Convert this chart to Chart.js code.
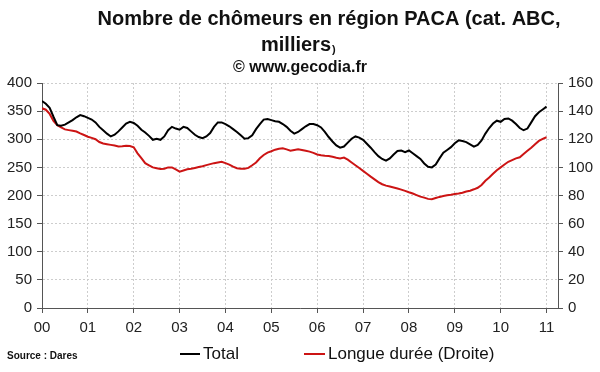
<!DOCTYPE html>
<html>
<head>
<meta charset="utf-8">
<script src="https://cdn.jsdelivr.net/npm/chart.js@4/dist/chart.umd.min.js"></script>
<style>
  html, body { margin: 0; padding: 0; background: #fff; }
  #wrap { width: 600px; height: 372px; position: relative; }
</style>
</head>
<body>
<div id="wrap"><canvas id="myChart"></canvas></div>
<script>
// mois de janvier 2000 (index 0) à janvier 2011 (index 132)
const anneesLabels = ['00', '01', '02', '03', '04', '05', '06', '07', '08', '09', '10', '11'];

// Total, milliers (axe gauche)
const total = [
  368, 363, 356, 340, 325, 324, 326, 330, 334, 339, 343, 341,
  338, 335, 330, 322, 316, 310, 305, 308, 314, 321, 328, 331,
  329, 324, 317, 312, 306, 299, 301, 299, 305, 316, 322, 319,
  317, 322, 320, 314, 308, 304, 302, 305, 311, 322, 330, 330,
  327, 323, 318, 313, 307, 301, 302, 307, 318, 327, 335, 336,
  334, 332, 331, 327, 322, 315, 310, 313, 318, 323, 327, 327,
  325, 321, 313, 304, 296, 289, 285, 287, 294, 301, 305, 303,
  299, 292, 285, 277, 270, 265, 262, 266, 273, 279, 280, 277,
  280, 275, 270, 265, 257, 251, 250, 255, 266, 276, 281, 286,
  293, 298, 297, 295, 291, 287, 290, 298, 310, 320, 328, 333,
  331, 336, 337, 333, 327, 320, 316, 319, 330, 341, 348, 353,
  358
];

// Longue durée, milliers (axe droit)
const longueDuree = [
  142, 141, 138, 133, 130, 128.5, 127, 126.5, 126, 125.5, 124.2, 123,
  121.8, 121, 120, 118, 117, 116.5, 116, 115.5, 114.8, 115, 115.3, 115.2,
  114.3, 110, 106.5, 103, 101.5, 100, 99.4, 98.8, 99, 100, 100, 98.5,
  97, 97.8, 98.6, 99, 99.6, 100.2, 100.8, 101.6, 102.3, 103, 103.5, 104,
  103, 102, 100.5, 99.4, 99, 99, 99.6, 101.5, 103.5, 106.5, 108.8, 110.5,
  111.5, 112.6, 113.2, 113.6, 112.8, 111.9, 112.4, 112.9, 112.4, 111.8, 111.2, 110.3,
  109.2, 108.6, 108.3, 108.1, 107.5, 106.8, 106.4, 107, 105.5, 103.5, 101.5, 99.6,
  97.5, 95.5, 93.4, 91.5, 89.5, 88, 87, 86.4, 85.7, 85, 84.2, 83.3,
  82.3, 81.4, 80.3, 79.2, 78.5, 77.6, 77.3, 78.2, 79, 79.6, 80.1, 80.5,
  81, 81.4, 82, 82.8, 83.4, 84.4, 85.5, 87.5, 90.5, 92.8, 95.5, 98,
  100, 102, 104, 105.2, 106.4, 107.2, 109.5, 111.8, 114, 116.5, 118.8, 120.3,
  121.4
];

const FONT = "'Liberation Sans', Arial, sans-serif";
const NOIR = '#000000';
const ROUGE = '#cc1414';

// titres, source et légende dessinés à la main
const textesPlugin = {
  id: 'textes',
  afterDraw(chart) {
    const ctx = chart.ctx;
    ctx.save();
    ctx.fillStyle = '#111';
    ctx.textBaseline = 'middle';
    ctx.textAlign = 'center';
    ctx.font = 'bold 20px ' + FONT;
    ctx.fillText('Nombre de chômeurs en région PACA (cat. ABC,', 329, 19);
    const m = 'milliers';
    const wm = ctx.measureText(m).width;
    ctx.textAlign = 'left';
    ctx.fillText(m, 296 - wm / 2, 45);
    ctx.font = 'bold 11px ' + FONT;
    ctx.fillText(')', 296 + wm / 2 + 1, 50);
    ctx.textAlign = 'center';
    ctx.font = 'bold 16px ' + FONT;
    ctx.fillText('© www.gecodia.fr', 300, 68);

    ctx.textAlign = 'left';
    ctx.font = 'bold 10px ' + FONT;
    ctx.fillText('Source : Dares', 7, 356);

    // légende
    ctx.font = '17px ' + FONT;
    ctx.lineWidth = 2;
    ctx.strokeStyle = NOIR;
    ctx.beginPath(); ctx.moveTo(180, 354); ctx.lineTo(200, 354); ctx.stroke();
    ctx.fillText('Total', 203, 354);
    ctx.strokeStyle = ROUGE;
    ctx.beginPath(); ctx.moveTo(304, 354); ctx.lineTo(325, 354); ctx.stroke();
    ctx.fillText('Longue durée (Droite)', 328, 354);
    ctx.restore();
  }
};

const ctx = document.getElementById('myChart');

new Chart(ctx, {
  type: 'line',
  data: {
    datasets: [{
      label: 'Total',
      data: total.map((v, i) => ({ x: i, y: v })),
      borderColor: NOIR,
      backgroundColor: NOIR,
      borderWidth: 2,
      pointRadius: 0,
      tension: 0,
      yAxisID: 'y'
    }, {
      label: 'Longue durée (Droite)',
      data: longueDuree.map((v, i) => ({ x: i, y: v })),
      borderColor: ROUGE,
      backgroundColor: ROUGE,
      borderWidth: 2,
      pointRadius: 0,
      tension: 0,
      yAxisID: 'y1'
    }]
  },
  options: {
    responsive: true,
    maintainAspectRatio: false,
    animation: false,
    layout: { padding: { top: 83, left: 0, right: 0, bottom: 0 } },
    plugins: {
      legend: { display: false },
      title: { display: false },
      tooltip: { enabled: false }
    },
    scales: {
      x: {
        type: 'linear',
        min: 0,
        max: 135,
        afterFit: scale => { scale.height = 64; },
        ticks: {
          stepSize: 12,
          includeBounds: false,
          padding: 6,
          color: '#222',
          font: { family: FONT, size: 15 },
          maxRotation: 0,
          callback: v => anneesLabels[v / 12]
        },
        grid: { color: '#cdcdcd', tickColor: '#555', tickLength: 5 },
        border: { color: '#555', width: 1, dash: [2, 2] }
      },
      y: {
        position: 'left',
        min: 0,
        max: 400,
        afterFit: scale => { scale.width = 42; },
        ticks: {
          stepSize: 50,
          padding: 5,
          color: '#222',
          font: { family: FONT, size: 15 }
        },
        grid: { color: '#cdcdcd', tickColor: '#555', tickLength: 5 },
        border: { color: '#555', width: 1, dash: [2, 2] }
      },
      y1: {
        position: 'right',
        min: 0,
        max: 160,
        afterFit: scale => { scale.width = 42; },
        ticks: {
          stepSize: 20,
          padding: 5,
          color: '#222',
          font: { family: FONT, size: 15 }
        },
        grid: { drawOnChartArea: false, tickColor: '#555', tickLength: 5 },
        border: { color: '#555', width: 1 }
      }
    }
  },
  plugins: [textesPlugin]
});
</script>
</body>
</html>
